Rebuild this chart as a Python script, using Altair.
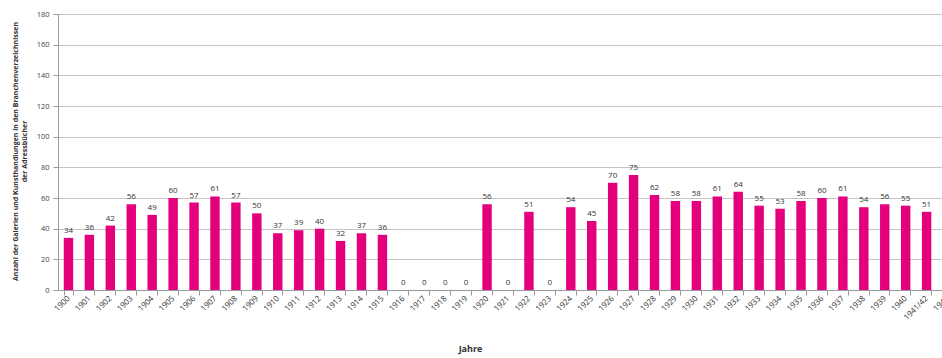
import altair as alt
import pandas as pd

years = ["1900", "1901", "1902", "1903", "1904", "1905", "1906", "1907", "1908", "1909",
         "1910", "1911", "1912", "1913", "1914", "1915", "1916", "1917", "1918", "1919",
         "1920", "1921", "1922", "1923", "1924", "1925", "1926", "1927", "1928", "1929",
         "1930", "1931", "1932", "1933", "1934", "1935", "1936", "1937", "1938", "1939",
         "1940", "1941/42", "1943"]
counts = [34, 36, 42, 56, 49, 60, 57, 61, 57, 50,
          37, 39, 40, 32, 37, 36, 0, 0, 0, 0,
          56, 0, 51, 0, 54, 45, 70, 75, 62, 58,
          58, 61, 64, 55, 53, 58, 60, 61, 54, 56,
          55, 51, 50]
y_ticks = [0, 20, 40, 60, 80, 100, 120, 140, 160, 180]

df = pd.DataFrame({"Jahr": years, "Anzahl": counts})

FONT = "Open Sans"
BAR = "#e4007c"

x = alt.X(
    "Jahr:N",
    sort=years,
    scale=alt.Scale(range=[0, 900], paddingInner=0.55, paddingOuter=0.275),
    axis=alt.Axis(
        title="Jahre",
        titleFont=FONT, titleFontSize=9, titleFontWeight="bold", titleColor="#333333",
        titleX=412, titleY=58, titleBaseline="middle", titleAnchor="start", titleAlign="center",
        labelAngle=-45, labelAlign="right", labelBaseline="middle",
        labelFont=FONT, labelFontSize=8, labelColor="#333333", labelPadding=2,
        tickBand="extent", tickSize=5, tickColor="#999999",
        domainColor="#999999", grid=False, labelOverlap=False,
    ),
)

y = alt.Y(
    "Anzahl:Q",
    scale=alt.Scale(domain=[0, 180], nice=False),
    axis=alt.Axis(
        title=["Anzahl der Galerien und Kunsthandlungen in den Branchenverzeichnissen",
               "der Adressbücher"],
        titleFont=FONT, titleFontSize=7, titleFontWeight="bold", titleColor="#333333",
        titleX=-43, titleY=137, titleAngle=270, titleAlign="center", titleBaseline="middle",
        titleLineHeight=9,
        values=y_ticks, tickCount=10, labelOverlap=False,
        labelFont=FONT, labelFontSize=7.5, labelColor="#444444", labelPadding=4,
        tickSize=5, tickColor="#999999", domainColor="#999999",
        gridColor="#c4c4c4", gridWidth=1,
    ),
)

base = alt.Chart(df).encode(x=x, y=y)
bars = base.mark_bar(color=BAR)
labels = base.mark_text(
    baseline="bottom", dy=-3, font=FONT, fontSize=8, color="#333333"
).encode(text="Anzahl:Q")

chart = alt.layer(bars, labels).properties(
    width=884, height=276,
    autosize=alt.AutoSizeParams(type="none"),
    padding={"left": 58, "top": 14, "right": 0, "bottom": 68},
    background="white",
).configure_view(stroke=None)

chart.save("out.html", embed_options={"renderer": "svg", "actions": False})
